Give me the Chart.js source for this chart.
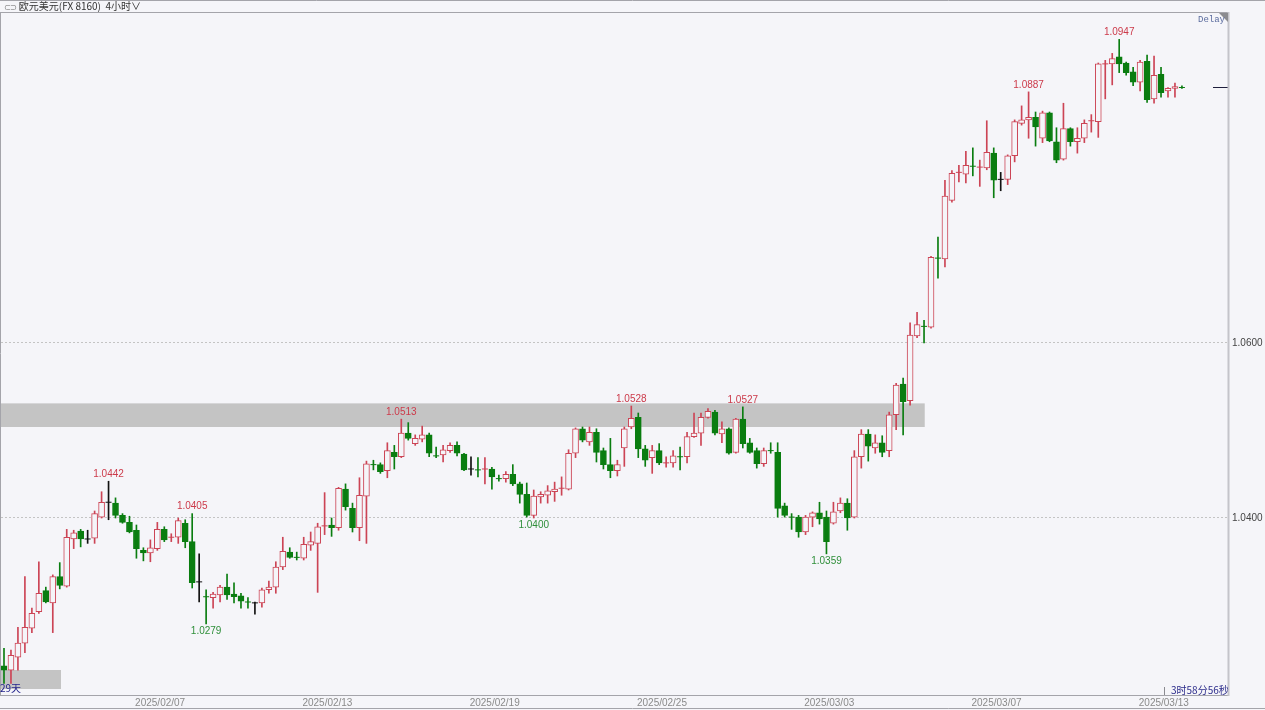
<!DOCTYPE html>
<html>
<head>
<meta charset="utf-8">
<script src="https://cdn.jsdelivr.net/npm/chart.js@4.4.1/dist/chart.umd.min.js"></script>
<style>
  html, body { margin: 0; padding: 0; background: #f5f5f9; }
  #wrap { position: relative; width: 1265px; height: 710px; overflow: hidden; }
  canvas { position: absolute; left: 0; top: 0; }
  .txt { position: absolute; white-space: nowrap; font-family: "Liberation Sans", "Noto Sans CJK SC", sans-serif; font-size: 10px; line-height: 12px; }
</style>
</head>
<body>
<div id="wrap">
  <canvas id="grafico" width="1265" height="710"></canvas>
  <div class="txt" style="left:4px;top:0px;color:#333;"><span style="font-size:7px;color:#666;letter-spacing:-1px;">⊂⊃</span> <span style="font-family:'Noto Sans CJK SC';">欧元美元(FX 8160)&nbsp;&nbsp;4小时∨</span></div>
  <div class="txt" style="left:1198px;top:14px;color:#5a6b9e;font-family:'Liberation Mono',monospace;font-size:9px;">Delay</div>
  <div class="txt" style="left:0px;top:682px;color:#23238c;font-family:'Noto Sans CJK SC';">29天</div>
  <div class="txt" style="left:1171px;top:684px;color:#2b2b8a;font-family:'Noto Sans CJK SC';">3时58分56秒</div>
</div>
<script>
// ---------- DADOS (velas de 4 horas) ----------
const abertura = [
  1.0231, 1.0226, 1.0241, 1.0257, 1.0274, 1.0293, 1.0317, 1.0303, 1.0333, 1.0322,
  1.0376, 1.0385, 1.0376, 1.0377, 1.0401, 1.0418, 1.0417, 1.0403, 1.0395, 1.0386,
  1.0363, 1.0360, 1.0365, 1.0387, 1.0377, 1.0378, 1.0394, 1.0373, 1.0327, 1.0311,
  1.0309, 1.0312, 1.0321, 1.0313, 1.0311, 1.0305, 1.0303, 1.0303, 1.0318, 1.0321,
  1.0344, 1.0361, 1.0356, 1.0354, 1.0369, 1.0371, 1.0390, 1.0392, 1.0389, 1.0433,
  1.0411, 1.0389, 1.0425, 1.0462, 1.0461, 1.0454, 1.0475, 1.0470, 1.0497, 1.0485,
  1.0490, 1.0495, 1.0472, 1.0472, 1.0477, 1.0483, 1.0473, 1.0456, 1.0456, 1.0455,
  1.0456, 1.0446, 1.0445, 1.0450, 1.0439, 1.0427, 1.0403, 1.0424, 1.0426, 1.0430,
  1.0433, 1.0433, 1.0474, 1.0502, 1.0487, 1.0498, 1.0477, 1.0461, 1.0454, 1.0480,
  1.0504, 1.0515, 1.0479, 1.0469, 1.0477, 1.0462, 1.0463, 1.0471, 1.0470, 1.0493,
  1.0497, 1.0515, 1.0521, 1.0496, 1.0502, 1.0475, 1.0513, 1.0486, 1.0477, 1.0462,
  1.0478, 1.0475, 1.0414, 1.0402, 1.0401, 1.0384, 1.0401, 1.0406, 1.0401, 1.0394,
  1.0408, 1.0417, 1.0401, 1.0470, 1.0496, 1.0480, 1.0486, 1.0477, 1.0518, 1.0553,
  1.0534, 1.0608, 1.0620, 1.0618, 1.0698, 1.0696, 1.0763, 1.0794, 1.0793, 1.0803,
  1.0800, 1.0800, 1.0817, 1.0787, 1.0787, 1.0814, 1.0851, 1.0855, 1.0858, 1.0834,
  1.0863, 1.0830, 1.0810, 1.0845, 1.0830, 1.0834, 1.0853, 1.0853, 1.0918, 1.0919,
  1.0927, 1.0920, 1.0910, 1.0898, 1.0922, 1.0879, 1.0907, 1.0888, 1.0891, 1.0893
];
const maxima = [
  1.0251, 1.0249, 1.0275, 1.0333, 1.0297, 1.0350, 1.0321, 1.0335, 1.0349, 1.0387,
  1.0386, 1.0387, 1.0386, 1.0408, 1.0430, 1.0442, 1.0423, 1.0405, 1.0402, 1.0392,
  1.0366, 1.0375, 1.0395, 1.0390, 1.0382, 1.0400, 1.0398, 1.0405, 1.0359, 1.0318,
  1.0315, 1.0323, 1.0336, 1.0326, 1.0314, 1.0309, 1.0304, 1.0320, 1.0328, 1.0350,
  1.0378, 1.0366, 1.0361, 1.0378, 1.0384, 1.0394, 1.0429, 1.0400, 1.0435, 1.0439,
  1.0417, 1.0446, 1.0465, 1.0466, 1.0463, 1.0486, 1.0483, 1.0513, 1.0509, 1.0495,
  1.0505, 1.0497, 1.0481, 1.0483, 1.0486, 1.0487, 1.0474, 1.0470, 1.0469, 1.0469,
  1.0458, 1.0449, 1.0453, 1.0461, 1.0441, 1.0440, 1.0432, 1.0430, 1.0437, 1.0441,
  1.0447, 1.0478, 1.0503, 1.0504, 1.0504, 1.0502, 1.0480, 1.0491, 1.0466, 1.0504,
  1.0528, 1.0520, 1.0483, 1.0483, 1.0485, 1.0470, 1.0477, 1.0481, 1.0498, 1.0520,
  1.0520, 1.0525, 1.0523, 1.0510, 1.0503, 1.0514, 1.0527, 1.0491, 1.0480, 1.0480,
  1.0486, 1.0486, 1.0417, 1.0405, 1.0403, 1.0403, 1.0407, 1.0418, 1.0408, 1.0418,
  1.0423, 1.0422, 1.0477, 1.0501, 1.0501, 1.0495, 1.0494, 1.0521, 1.0554, 1.0560,
  1.0623, 1.0635, 1.0626, 1.0699, 1.0721, 1.0786, 1.0797, 1.0803, 1.0819, 1.0823,
  1.0809, 1.0854, 1.0823, 1.0795, 1.0815, 1.0855, 1.0871, 1.0887, 1.0864, 1.0865,
  1.0864, 1.0846, 1.0874, 1.0846, 1.0846, 1.0855, 1.0861, 1.0920, 1.0923, 1.0931,
  1.0947, 1.0921, 1.0915, 1.0923, 1.0929, 1.0928, 1.0915, 1.0892, 1.0897, 1.0894
];
const minima = [
  1.0211, 1.0211, 1.0226, 1.0246, 1.0269, 1.0291, 1.0303, 1.0269, 1.0319, 1.0321,
  1.0365, 1.0367, 1.0371, 1.0371, 1.0400, 1.0398, 1.0400, 1.0394, 1.0383, 1.0354,
  1.0351, 1.0350, 1.0363, 1.0373, 1.0373, 1.0371, 1.0366, 1.0320, 1.0304, 1.0279,
  1.0297, 1.0304, 1.0307, 1.0303, 1.0297, 1.0297, 1.0290, 1.0298, 1.0314, 1.0314,
  1.0341, 1.0354, 1.0352, 1.0352, 1.0363, 1.0315, 1.0381, 1.0379, 1.0386, 1.0409,
  1.0384, 1.0374, 1.0371, 1.0455, 1.0451, 1.0446, 1.0456, 1.0469, 1.0489, 1.0483,
  1.0487, 1.0470, 1.0469, 1.0464, 1.0475, 1.0471, 1.0454, 1.0449, 1.0447, 1.0439,
  1.0433, 1.0442, 1.0441, 1.0437, 1.0417, 1.0401, 1.0400, 1.0417, 1.0417, 1.0419,
  1.0426, 1.0432, 1.0469, 1.0487, 1.0483, 1.0464, 1.0456, 1.0446, 1.0448, 1.0459,
  1.0502, 1.0469, 1.0459, 1.0451, 1.0461, 1.0458, 1.0458, 1.0455, 1.0463, 1.0492,
  1.0483, 1.0514, 1.0495, 1.0486, 1.0473, 1.0474, 1.0480, 1.0474, 1.0457, 1.0459,
  1.0474, 1.0401, 1.0401, 1.0387, 1.0378, 1.0381, 1.0390, 1.0393, 1.0359, 1.0393,
  1.0406, 1.0386, 1.0400, 1.0457, 1.0465, 1.0474, 1.0470, 1.0470, 1.0501, 1.0495,
  1.0529, 1.0606, 1.0600, 1.0617, 1.0674, 1.0687, 1.0761, 1.0784, 1.0783, 1.0791,
  1.0779, 1.0798, 1.0766, 1.0774, 1.0781, 1.0807, 1.0849, 1.0834, 1.0825, 1.0829,
  1.0830, 1.0806, 1.0809, 1.0825, 1.0817, 1.0829, 1.0841, 1.0835, 1.0879, 1.0895,
  1.0909, 1.0906, 1.0894, 1.0888, 1.0875, 1.0874, 1.0881, 1.0881, 1.0881, 1.0891
];
const fechamento = [
  1.0226, 1.0243, 1.0257, 1.0275, 1.0291, 1.0314, 1.0304, 1.0333, 1.0323, 1.0378,
  1.0383, 1.0376, 1.0376, 1.0405, 1.0418, 1.0418, 1.0403, 1.0395, 1.0384, 1.0365,
  1.0360, 1.0366, 1.0387, 1.0375, 1.0378, 1.0397, 1.0373, 1.0326, 1.0327, 1.0310,
  1.0313, 1.0321, 1.0312, 1.0310, 1.0305, 1.0304, 1.0303, 1.0318, 1.0321, 1.0344,
  1.0362, 1.0355, 1.0355, 1.0370, 1.0373, 1.0390, 1.0391, 1.0389, 1.0434, 1.0413,
  1.0389, 1.0426, 1.0462, 1.0461, 1.0453, 1.0477, 1.0470, 1.0497, 1.0491, 1.0491,
  1.0495, 1.0474, 1.0471, 1.0478, 1.0483, 1.0474, 1.0455, 1.0456, 1.0455, 1.0456,
  1.0447, 1.0445, 1.0450, 1.0439, 1.0427, 1.0403, 1.0425, 1.0427, 1.0431, 1.0433,
  1.0434, 1.0474, 1.0502, 1.0489, 1.0498, 1.0475, 1.0461, 1.0454, 1.0461, 1.0502,
  1.0514, 1.0479, 1.0466, 1.0477, 1.0463, 1.0463, 1.0471, 1.0470, 1.0493, 1.0497,
  1.0515, 1.0522, 1.0497, 1.0502, 1.0474, 1.0513, 1.0485, 1.0475, 1.0462, 1.0477,
  1.0477, 1.0411, 1.0403, 1.0401, 1.0384, 1.0401, 1.0406, 1.0399, 1.0373, 1.0407,
  1.0417, 1.0400, 1.0470, 1.0496, 1.0482, 1.0486, 1.0475, 1.0518, 1.0552, 1.0533,
  1.0609, 1.0621, 1.0619, 1.0698, 1.0697, 1.0768, 1.0794, 1.0795, 1.0803, 1.0802,
  1.0801, 1.0818, 1.0786, 1.0787, 1.0814, 1.0853, 1.0855, 1.0858, 1.0847, 1.0863,
  1.0831, 1.0809, 1.0845, 1.0830, 1.0834, 1.0851, 1.0854, 1.0919, 1.0919, 1.0925,
  1.0919, 1.0909, 1.0898, 1.0921, 1.0878, 1.0906, 1.0886, 1.0891, 1.0893, 1.0892
];

// eixo de tempo: posição (em velas) e texto dos rótulos
const ticksIdx = [22.4, 46.4, 70.4, 94.4, 118.4, 142.4, 166.4];
const ticksTexto = ["2025/02/07", "2025/02/13", "2025/02/19", "2025/02/25", "2025/03/03", "2025/03/07", "2025/03/13"];
const ticksPreco = [1.04, 1.06];

// máximas / mínimas marcadas no gráfico
const marcasIdx = [15, 27, 29, 57, 76, 90, 106, 118, 147, 160];
const marcasTipo = ["max", "max", "min", "max", "min", "max", "max", "min", "max", "max"];

// faixa de resistência (preço e intervalo de velas)
const zonaPreco = [1.0504, 1.0531];
const zonaIdx = [-0.5, 132.1];

// ---------- CORES ----------
const VERMELHO = "#cc4455";
const VERDE = "#0a7d10";
const PRETO = "#111111";
const FUNDO = "#f5f5f9";

function corVela(i) {
  if (fechamento[i] > abertura[i]) return VERMELHO;
  if (fechamento[i] < abertura[i]) return VERDE;
  return PRETO;
}
function ehDoji(i) {
  return Math.abs(fechamento[i] - abertura[i]) < 0.00015;
}

// ---------- MONTAR SÉRIES ----------
const indices = abertura.map((_, i) => i);
const velasCorpo = indices.filter(i => !ehDoji(i));
const velasDoji = indices.filter(i => ehDoji(i));

const dadosPavio = indices.map(i => ({ x: i, y: [minima[i], maxima[i]] }));
const dadosCorpo = velasCorpo.map(i => ({ x: i, y: [abertura[i], fechamento[i]] }));
const dadosDoji = velasDoji.map(i => ({ x: i, y: fechamento[i] }));

// ---------- PLUGIN: faixa, marcas, bordas ----------
const extras = {
  id: "extras",
  beforeDatasetsDraw(chart) {
    const { ctx, chartArea: a, scales: { x, y } } = chart;
    ctx.save();
    const x0 = Math.max(0, x.getPixelForValue(zonaIdx[0]));
    const x1 = x.getPixelForValue(zonaIdx[1]);
    const y0 = y.getPixelForValue(zonaPreco[1]);
    const y1 = y.getPixelForValue(zonaPreco[0]);
    ctx.fillStyle = "#c4c4c4";
    ctx.fillRect(x0, y0, x1 - x0, y1 - y0);
    // caixa do contador "29天"
    ctx.fillRect(0, a.bottom - 25, 61, 19);
    ctx.restore();
  },
  afterDatasetsDraw(chart) {
    const { ctx, chartArea: a, scales: { x, y } } = chart;
    ctx.save();
    ctx.font = "10px 'Liberation Sans'";
    ctx.textAlign = "center";
    ctx.textBaseline = "middle";
    marcasIdx.forEach((i, k) => {
      const alta = marcasTipo[k] === "max";
      const v = alta ? maxima[i] : minima[i];
      const px = x.getPixelForValue(i);
      const py = y.getPixelForValue(v) + (alta ? -7 : 7);
      ctx.fillStyle = alta ? "#cc3a4a" : "#2f8f3a";
      ctx.fillText(v.toFixed(4), px, py);
    });
    // linha do preço atual
    const yp = Math.round(y.getPixelForValue(fechamento[fechamento.length - 1])) + 0.5;
    ctx.strokeStyle = "#1e1e3c";
    ctx.lineWidth = 1;
    ctx.beginPath();
    ctx.moveTo(a.right - 15, yp);
    ctx.lineTo(a.right, yp);
    ctx.stroke();
    ctx.restore();
  },
  afterDraw(chart) {
    const { ctx, chartArea: a, width, height } = chart;
    ctx.save();
    ctx.strokeStyle = "#a4a4aa";
    ctx.lineWidth = 1;
    ctx.beginPath();
    ctx.moveTo(0, 0.5); ctx.lineTo(width, 0.5);
    ctx.moveTo(0, a.top - 0.5); ctx.lineTo(a.right, a.top - 0.5);
    ctx.moveTo(0.5, a.top - 1); ctx.lineTo(0.5, a.bottom);
    ctx.moveTo(0, a.bottom + 0.5); ctx.lineTo(a.right, a.bottom + 0.5);
    ctx.moveTo(0, height - 1.5); ctx.lineTo(width, height - 1.5);
    ctx.stroke();
    ctx.strokeStyle = "#c4c4ca";
    ctx.lineWidth = 2;
    ctx.beginPath();
    ctx.moveTo(a.right + 0.5, a.top - 1); ctx.lineTo(a.right + 0.5, a.bottom + 1);
    ctx.stroke();
    // marquinha antes do contador
    ctx.strokeStyle = "#8a8a90";
    ctx.lineWidth = 1;
    ctx.beginPath();
    ctx.moveTo(1164.5, a.bottom - 8); ctx.lineTo(1164.5, a.bottom);
    ctx.stroke();
    // triângulo do canto
    ctx.fillStyle = "#8c8c90";
    ctx.beginPath();
    ctx.moveTo(a.right - 9, a.top);
    ctx.lineTo(a.right, a.top);
    ctx.lineTo(a.right, a.top + 9);
    ctx.closePath();
    ctx.fill();
    ctx.restore();
  }
};

// ---------- GRÁFICO ----------
const ctx = document.getElementById("grafico").getContext("2d");
window.grafico = new Chart(ctx, {
  type: "bar",
  data: {
    datasets: [
      {
        type: "line",
        label: "doji",
        data: dadosDoji,
        showLine: false,
        pointStyle: "line",
        pointRadius: 3,
        pointHoverRadius: 3,
        pointBorderWidth: 1,
        pointBorderColor: velasDoji.map(corVela),
        order: 0
      },
      {
        type: "bar",
        label: "corpo",
        data: dadosCorpo,
        grouped: false,
        barThickness: 6,
        borderWidth: 1,
        borderSkipped: false,
        borderColor: velasCorpo.map(corVela),
        backgroundColor: velasCorpo.map(i => fechamento[i] > abertura[i] ? FUNDO : VERDE),
        order: 1
      },
      {
        type: "bar",
        label: "pavio",
        data: dadosPavio,
        grouped: false,
        barThickness: 1,
        borderWidth: 0,
        backgroundColor: indices.map(corVela),
        order: 2
      }
    ]
  },
  options: {
    responsive: false,
    maintainAspectRatio: false,
    animation: false,
    events: [],
    layout: { autoPadding: false, padding: { left: 1, top: 13, right: 0, bottom: 0 } },
    plugins: {
      legend: { display: false },
      tooltip: { enabled: false }
    },
    scales: {
      x: {
        type: "linear",
        min: -0.43,
        max: 175.61,
        offset: false,
        grid: { display: false, drawTicks: false },
        border: { display: false },
        afterBuildTicks: scale => { scale.ticks = ticksIdx.map(v => ({ value: v })); },
        afterFit: scale => {
          scale.height = 15;
          scale.paddingLeft = 0;
          scale.paddingRight = 0;
        },
        ticks: {
          autoSkip: false,
          maxRotation: 0,
          padding: 2,
          color: "#8a8a8a",
          font: { family: "Liberation Sans", size: 10 },
          callback: v => ticksTexto[ticksIdx.indexOf(v)]
        }
      },
      y: {
        position: "right",
        min: 1.019771,
        max: 1.097714,
        grid: { color: "#c4c4c4", drawTicks: false },
        border: { display: false, dash: [2, 2] },
        afterBuildTicks: scale => { scale.ticks = ticksPreco.map(v => ({ value: v })); },
        afterFit: scale => { scale.width = 37; },
        ticks: {
          padding: 4,
          color: "#444",
          font: { family: "Liberation Sans", size: 10 },
          callback: v => v.toFixed(4)
        }
      }
    }
  },
  plugins: [extras]
});
</script>
</body>
</html>
